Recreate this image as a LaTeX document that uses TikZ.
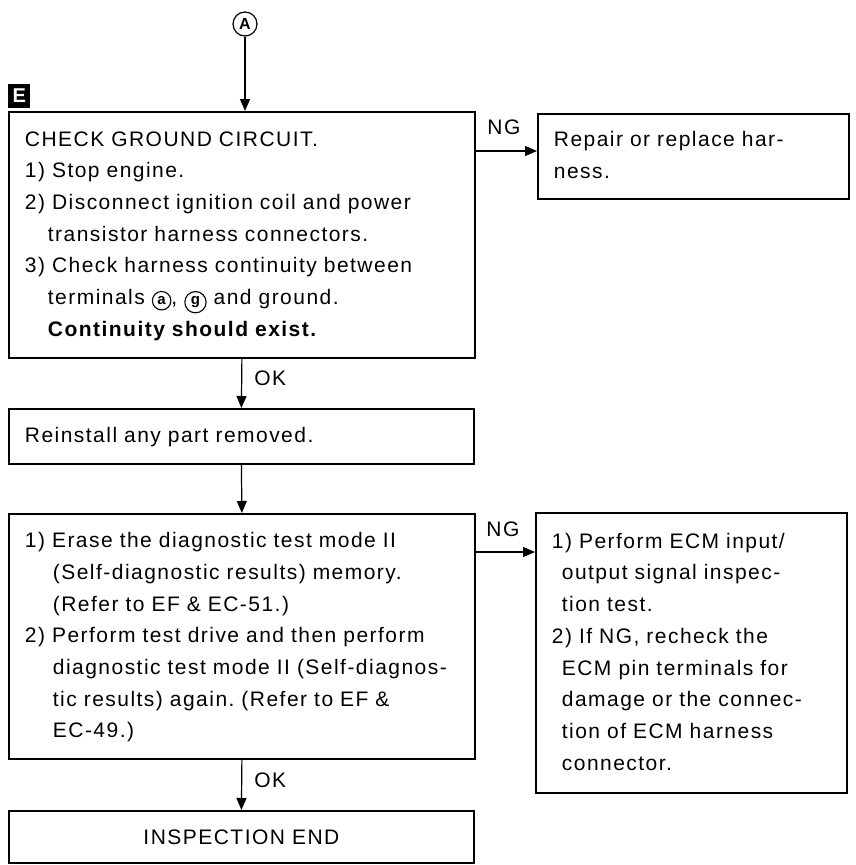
\documentclass[tikz,border=0pt]{standalone}
\usepackage{fontspec}
\setmainfont{Liberation Sans}[LetterSpace=7]
\usetikzlibrary{arrows.meta,positioning}

% one block of lines, left aligned, never rewrapped
\newcommand{\rows}[1]{\begin{tabular}{@{}l@{}}#1\end{tabular}}
\newcommand{\indt}[1][23pt]{\hspace*{#1}}
% circled terminal letter
\newcommand{\pin}[1]{\tikz[baseline=(p.base)]\node[circle,draw,line width=1.1pt,
  inner sep=2.4pt,minimum size=0pt,text width={},anchor=center,
  font=\fontsize{15}{15}\selectfont\bfseries] (p) {#1};}
\frenchspacing

\begin{document}
\begin{tikzpicture}[x=1pt,y=-1pt,
    box/.style 2 args={draw,line width=1.8pt,anchor=north west,align=left,
      inner xsep=16pt,inner ysep=0pt,minimum width=#1pt,
      text width=#1pt-32pt,minimum height=#2pt},
    tag/.style={inner sep=0pt},
    every node/.style={font=\fontsize{21}{31.7}\selectfont}]
  \useasboundingbox (0,0) rectangle (856,865);

  % main line of checks
  \node[box={466}{246}] (check) at (8,111) {\rows{%
    CHECK GROUND CIRCUIT.\\
    1) Stop engine.\\
    2) Disconnect ignition coil and power\\
    \indt transistor harness connectors.\\
    3) Check harness continuity between\\
    \indt terminals \pin{a}, \pin{g} and ground.\\
    \indt\textbf{Continuity should exist.}}};
  \node[box={465}{55}] (reinstall) at (8,408) {\rows{Reinstall any part removed.}};
  \node[box={466}{245}] (erase) at (8,513) {\rows{%
    1) Erase the diagnostic test mode II\\
    \indt[28pt](Self-diagnostic results) memory.\\
    \indt[28pt](Refer to EF \& EC-51.)\\
    2) Perform test drive and then perform\\
    \indt[28pt]diagnostic test mode II (Self-diagnos-\\
    \indt[28pt]tic results) again. (Refer to EF \&\\
    \indt[28pt]EC-49.)}};
  \node[box={465}{52},align=center] (done) at (8,810) {INSPECTION END};

  % NG side
  \node[box={311}{85}] (repair) at (537,113) {\rows{%
    Repair or replace har-\\
    ness.}};
  \node[box={311}{280}] (ecm) at (535,512) {\rows{%
    1) Perform ECM input/\\
    \indt[10pt]output signal inspec-\\
    \indt[10pt]tion test.\\
    2) If NG, recheck the\\
    \indt[10pt]ECM pin terminals for\\
    \indt[10pt]damage or the connec-\\
    \indt[10pt]tion of ECM harness\\
    \indt[10pt]connector.}};

  \node[circle,draw,line width=1.2pt,minimum size=24pt,inner sep=0pt,
    font=\fontsize{16}{16}\selectfont\bfseries] (a) at (245,24) {A};
  \node[fill=black,text=white,minimum width=22pt,minimum height=24pt,
    inner sep=0pt,anchor=south west,font=\fontsize{20}{20}\selectfont\bfseries]
    (badge) at ([yshift=3pt]check.north west) {E};

  \coordinate (ng1) at ([yshift=-38pt]repair.north west);
  \coordinate (ng2) at ([yshift=-40pt]ecm.north west);

  \begin{scope}[line width=1.2pt,-{Triangle[length=12pt,width=10pt]}]
    \draw (a) -- (a |- check.north);
    \draw (check.south) -- node[tag,pos=0.4,right=12pt]{OK} (reinstall.north);
    \draw (reinstall.south) -- (erase.north);
    \draw (erase.south) -- node[tag,pos=0.4,right=12pt]{OK} (done.north);
    \draw (check.east |- ng1) -- node[tag,pos=0,above right=16pt and 11pt]{NG} (ng1);
    \draw (erase.east |- ng2) -- node[tag,pos=0,above right=15pt and 10pt]{NG} (ng2);
  \end{scope}
\end{tikzpicture}
\end{document}
